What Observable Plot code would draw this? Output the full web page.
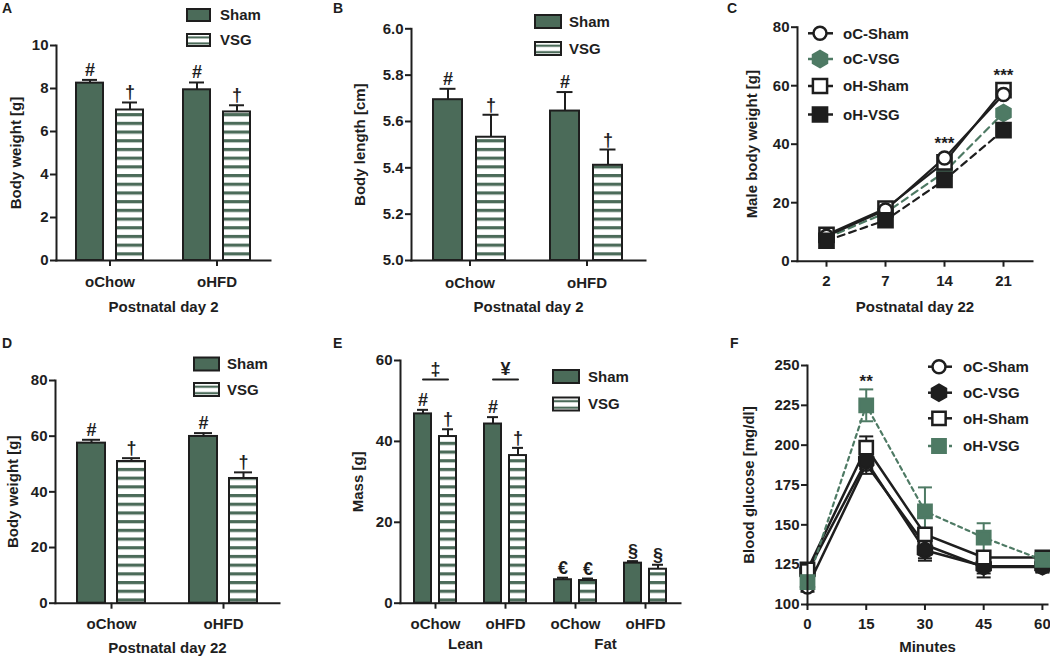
<!DOCTYPE html>
<html>
<head>
<meta charset="utf-8">
<script src="https://cdn.jsdelivr.net/npm/d3@7"></script>
<script src="https://cdn.jsdelivr.net/npm/@observablehq/plot@0.6"></script>
<style>
  body { margin: 0; background: #fff; }
  #fig { position: relative; width: 1050px; height: 658px; overflow: hidden; background: #fff; }
  .panel { position: absolute; }
  .panel svg { overflow: visible; }
</style>
</head>
<body>
<svg width="0" height="0" style="position:absolute">
  <defs>
    <pattern id="stripes" patternUnits="userSpaceOnUse" width="10" height="8.7">
      <rect width="10" height="8.7" fill="#ffffff"></rect>
      <rect y="0" width="10" height="3.2" fill="#4b6b59"></rect>
    </pattern>
    <pattern id="stripesLegend" patternUnits="objectBoundingBox" width="1" height="0.5" patternContentUnits="objectBoundingBox">
      <rect width="1" height="0.5" fill="#ffffff"></rect>
      <rect y="0.2" width="1" height="0.17" fill="#4b6b59"></rect>
    </pattern>
  </defs>
</svg>
<div id="fig"></div>
<script>
// ---------------- DATA ----------------
const treatments = ["Sham", "VSG"];
const groups = ["oChow", "oHFD"];

// Panel A: body weight [g], postnatal day 2 (order: oChow Sham, oChow VSG, oHFD Sham, oHFD VSG)
const aMean = [8.25, 7.0, 7.94, 6.91];
const aSem  = [0.15, 0.35, 0.34, 0.31];
const aSig  = ["#", "†", "#", "†"];
const aTicks = [0, 2, 4, 6, 8, 10];

// Panel B: body length [cm], postnatal day 2
const bMean = [5.694, 5.532, 5.645, 5.411];
const bSem  = [0.047, 0.097, 0.082, 0.068];
const bSig  = ["#", "†", "#", "†"];
const bTicks = [5.0, 5.2, 5.4, 5.6, 5.8, 6.0];

// Panel D: body weight [g], postnatal day 22
const dMean = [57.5, 50.9, 59.9, 44.8];
const dSem  = [1.2, 1.2, 1.2, 2.2];
const dSig  = ["#", "†", "#", "†"];
const dTicks = [0, 20, 40, 60, 80];

// Panel E: mass [g] (lean / fat)
const eGroups = ["Lean oChow", "Lean oHFD", "Fat oChow", "Fat oHFD"];
const eMean = [46.8, 41.2, 44.3, 36.5, 5.8, 5.6, 9.9, 8.4];
const eSem  = [1.0, 1.8, 1.7, 1.9, 0.5, 0.5, 0.5, 1.1];
const eSig  = ["#", "†", "#", "†", "€", "€", "§", "§"];
const eTicks = [0, 20, 40, 60];
const eBrackets = [
  {group: "Lean oChow", sig: "‡", y: 55.3},
  {group: "Lean oHFD", sig: "¥", y: 55.3}
];
const eTissues = [
  {group: "Lean oHFD", label: "Lean"},
  {group: "Fat oHFD", label: "Fat"}
];

// Panel C: male body weight [g] by postnatal day
const cDays = [2, 7, 14, 21];
const cOCSham = [8.5, 17.5, 35.3, 57.0];
const cOCVSG  = [8.0, 16.5, 30.5, 50.7];
const cOHSham = [9.0, 18.0, 33.8, 58.5];
const cOHVSG  = [7.0, 14.0, 27.8, 44.8];
const cStarDays = [14, 21];
const cTicks = [0, 20, 40, 60, 80];

// Panel F: blood glucose [mg/dl] by minutes
const fMinutes = [0, 15, 30, 45, 60];
const fOCSham = [111, 188, 137.5, 123.5, 123.5];
const fOCShamSem = [3, 6, 10, 4, 3];
const fOCVSG  = [120.5, 190, 134, 124, 124];
const fOCVSGSem = [3, 5, 5, 7, 4];
const fOHSham = [122, 198.5, 144, 129.5, 129.5];
const fOHShamSem = [3, 7, 4, 4, 3];
const fOHVSG  = [114, 225, 158.5, 142, 128];
const fOHVSGSem = [3, 10, 15, 9, 3];
const fStarMinutes = [15];
const fTicks = [100, 125, 150, 175, 200, 225, 250];

// ---------------- STYLE ----------------
const FONT = '"Liberation Sans", Arial, Helvetica, sans-serif';
const INK = "#1e1e1e";
const GREEN = "#4b6b59";
const LGREEN = "#4e7a64";

const sqrt4_3 = 2 / Math.sqrt(3);
const hexagon = {draw(ctx, size) {
  const rx = Math.sqrt(size / Math.PI), ry = rx * sqrt4_3, hy = ry / 2;
  ctx.moveTo(0, ry); ctx.lineTo(rx, hy); ctx.lineTo(rx, -hy);
  ctx.lineTo(0, -ry); ctx.lineTo(-rx, -hy); ctx.lineTo(-rx, hy); ctx.closePath();
}};
const capSymbol = {draw(ctx, size) {
  const w = Math.sqrt(size / Math.PI);
  ctx.moveTo(-w, 0); ctx.lineTo(w, 0);
}};

const fig = document.getElementById("fig");
function place(node, left, top, w, h) {
  const div = document.createElement("div");
  div.className = "panel";
  Object.assign(div.style, {left: left + "px", top: top + "px", width: w + "px", height: h + "px"});
  div.appendChild(node);
  fig.appendChild(div);
}
const baseStyle = {fontFamily: FONT, fontSize: "15px", fontWeight: "bold", color: INK, background: "transparent", overflow: "visible"};

// ---------------- BAR PANELS ----------------
function barPanel(o) {
  const rows = o.mean.map((m, i) => ({
    group: o.groups[Math.floor(i / 2)], treatment: treatments[i % 2],
    mean: m, sem: o.sem[i], sig: o.sig[i]
  }));
  const top = d => d.mean + d.sem;
  const y0 = o.yDomain[0];
  const marks = [
    Plot.barY(rows, {fx: "group", x: "treatment", y1: y0, y2: "mean", fill: "treatment", stroke: INK, strokeWidth: 2}),
    Plot.ruleX(rows, {fx: "group", x: "treatment", y1: "mean", y2: top, stroke: INK, strokeWidth: 2}),
    Plot.tickY(rows, {fx: "group", x: "treatment", y: top, stroke: INK, strokeWidth: 2, insetLeft: o.capInset, insetRight: o.capInset}),
    Plot.text(rows, {fx: "group", x: "treatment", y: top, text: "sig", lineAnchor: "bottom", dy: -4, fontSize: 18}),
    Plot.frame({anchor: "left", facet: "super", stroke: INK, strokeWidth: 2}),
    Plot.frame({anchor: "bottom", facet: "super", stroke: INK, strokeWidth: 2}),
    Plot.axisY({ticks: o.yTicks, tickFormat: o.yFormat, tickSize: 6, tickPadding: 2, strokeWidth: 2,
      label: o.yLabel, labelAnchor: "center", labelOffset: o.yLabelOffset, labelArrow: "none"}),
    Plot.axisFx({anchor: "bottom", tickSize: 6, tickPadding: o.xPad, strokeWidth: 2, tickFormat: o.fxFormat,
      label: o.xLabel, labelAnchor: "center", labelOffset: o.xLabelOffset, labelArrow: "none"})
  ];
  if (o.extra) marks.push(...o.extra);
  return Plot.plot({
    width: o.width, height: o.height,
    marginTop: o.m[0], marginRight: o.m[1], marginBottom: o.m[2], marginLeft: o.m[3],
    style: baseStyle,
    fx: {domain: o.groups, padding: 0, axis: null},
    x: {domain: treatments, paddingInner: o.pi, paddingOuter: o.po, axis: null},
    y: {domain: o.yDomain, axis: null},
    color: {domain: treatments, range: [GREEN, "url(#stripes)"]},
    marks
  });
}

place(barPanel({groups, mean: aMean, sem: aSem, sig: aSig, yDomain: [0, 10], yTicks: aTicks,
  yLabel: "Body weight [g]", xLabel: "Postnatal day 2", width: 350, height: 320, m: [45, 80, 60, 55],
  pi: 0.33, po: 0.494, capInset: 6, xPad: 10, xLabelOffset: 51, yLabelOffset: 46}), 0, 0, 350, 320);

place(barPanel({groups, mean: bMean, sem: bSem, sig: bSig, yDomain: [5, 6], yTicks: bTicks, yFormat: d3.format(".1f"),
  yLabel: "Body length [cm]", xLabel: "Postnatal day 2", width: 350, height: 320, m: [28.3, 55, 60, 60],
  pi: 0.318, po: 0.494, capInset: 6.5, xPad: 11, xLabelOffset: 51, yLabelOffset: 57}), 350, 0, 350, 320);

place(barPanel({groups, mean: dMean, sem: dSem, sig: dSig, yDomain: [0, 80], yTicks: dTicks,
  yLabel: "Body weight [g]", xLabel: "Postnatal day 22", width: 350, height: 338, m: [60, 71, 55.3, 55],
  pi: 0.296, po: 0.53, capInset: 5, xPad: 9, xLabelOffset: 49.3, yLabelOffset: 48}), 0, 320, 350, 338);

const eBracketRows = eBrackets.flatMap(b => treatments.map(t => ({...b, treatment: t})));
place(barPanel({groups: eGroups, mean: eMean, sem: eSem, sig: eSig, yDomain: [0, 60], yTicks: eTicks,
  fxFormat: d => d.split(" ")[1],
  yLabel: "Mass [g]", xLabel: null, width: 350, height: 338, m: [40, 19, 55.3, 49],
  pi: 0.308, po: 0.51, capInset: 3, xPad: 9, xLabelOffset: 49, yLabelOffset: 48,
  extra: [
    Plot.line(eBracketRows, {fx: "group", x: "treatment", y: "y", z: "group", stroke: INK, strokeWidth: 2}),
    Plot.text(eBrackets, {fx: "group", y: "y", text: "sig", lineAnchor: "bottom", dy: -5, fontSize: 18}),
    Plot.text(eTissues, {fx: "group", text: "label", frameAnchor: "bottom-left", textAnchor: "middle", lineAnchor: "top", dx: -5, dy: 35, fontSize: 15})
  ]}), 350, 320, 350, 338);

// ---------------- LINE PANELS ----------------
function linePanel(o) {
  const series = o.series.map(s => ({...s, rows: o.xs.map((x, i) => ({x, y: s.values[i], e: s.sem ? s.sem[i] : 0}))}));
  const byName = n => series.find(s => s.name === n);
  const lineOrder = o.lineOrder.map(byName);
  const dotOrder = o.dotOrder.map(byName);
  const marks = [];
  for (const s of lineOrder) marks.push(Plot.line(s.rows, {x: "x", y: "y", stroke: s.line, strokeWidth: s.lw, strokeDasharray: s.dash}));
  if (o.errors) for (const s of dotOrder) {
    marks.push(Plot.ruleX(s.rows, {x: "x", y1: d => d.y - d.e, y2: d => d.y + d.e, stroke: s.line, strokeWidth: 2}));
    marks.push(Plot.dot(s.rows, {x: "x", y: d => d.y + d.e, symbol: capSymbol, r: 7, stroke: s.line, strokeWidth: 2, fill: "none"}));
    marks.push(Plot.dot(s.rows, {x: "x", y: d => d.y - d.e, symbol: capSymbol, r: 7, stroke: s.line, strokeWidth: 2, fill: "none"}));
  }
  for (const s of dotOrder) marks.push(Plot.dot(s.rows, {x: "x", y: "y", symbol: s.symbol, r: s.r, fill: s.fill, stroke: s.stroke, strokeWidth: 2.5}));
  const stars = o.starXs.map(x => ({x, text: o.starText,
    y: d3.max(series, s => { const r = s.rows.find(r => r.x === x); return r.y + r.e; })}));
  marks.push(Plot.text(stars, {x: "x", y: "y", text: "text", lineAnchor: "bottom", dy: o.starDy, fontSize: o.starSize}));
  marks.push(Plot.frame({anchor: "left", stroke: INK, strokeWidth: 2}));
  marks.push(Plot.frame({anchor: "bottom", stroke: INK, strokeWidth: 2}));
  marks.push(Plot.axisY({ticks: o.yTicks, tickSize: 6, tickPadding: 2, strokeWidth: 2,
    label: o.yLabel, labelAnchor: "center", labelOffset: o.yLabelOffset, labelArrow: "none"}));
  marks.push(Plot.axisX({ticks: o.xTicks, tickSize: 6, tickPadding: o.xPad, strokeWidth: 2,
    label: o.xLabel, labelAnchor: "center", labelOffset: o.xLabelOffset, labelArrow: "none"}));
  return Plot.plot({
    width: o.width, height: o.height,
    marginTop: o.m[0], marginRight: o.m[1], marginBottom: o.m[2], marginLeft: o.m[3],
    style: baseStyle,
    x: {...o.x, axis: null},
    y: {domain: o.yDomain, axis: null},
    marks
  });
}

const cSeries = [
  {name: "oC-Sham", values: cOCSham, line: INK, lw: 2.2, dash: null, symbol: "circle", r: 6.5, fill: "#fff", stroke: INK},
  {name: "oC-VSG", values: cOCVSG, line: LGREEN, lw: 2.2, dash: "7,5", symbol: hexagon, r: 7, fill: LGREEN, stroke: LGREEN},
  {name: "oH-Sham", values: cOHSham, line: INK, lw: 2.2, dash: null, symbol: "square", r: 8, fill: "#fff", stroke: INK},
  {name: "oH-VSG", values: cOHVSG, line: INK, lw: 2.2, dash: "7,5", symbol: "square", r: 8, fill: INK, stroke: INK}
];
place(linePanel({xs: cDays, series: cSeries,
  lineOrder: ["oH-VSG", "oC-VSG", "oH-Sham", "oC-Sham"], dotOrder: ["oC-VSG", "oH-Sham", "oC-Sham", "oH-VSG"],
  errors: false, starXs: cStarDays, starText: "***", starDy: -9, starSize: 17,
  x: {type: "point", domain: cDays, padding: 0.48}, xTicks: cDays, yDomain: [0, 80], yTicks: cTicks,
  yLabel: "Male body weight [g]", xLabel: "Postnatal day 22",
  width: 350, height: 320, m: [26.7, 18, 59.3, 97], xPad: 8, xLabelOffset: 50.3, yLabelOffset: 51}), 700, 0, 350, 320);

const fSeries = [
  {name: "oC-Sham", values: fOCSham, sem: fOCShamSem, line: INK, lw: 2.5, dash: null, symbol: "circle", r: 6.5, fill: "#fff", stroke: INK},
  {name: "oC-VSG", values: fOCVSG, sem: fOCVSGSem, line: INK, lw: 2.5, dash: null, symbol: hexagon, r: 7, fill: INK, stroke: INK},
  {name: "oH-Sham", values: fOHSham, sem: fOHShamSem, line: INK, lw: 2.5, dash: null, symbol: "square", r: 7.5, fill: "#fff", stroke: INK},
  {name: "oH-VSG", values: fOHVSG, sem: fOHVSGSem, line: LGREEN, lw: 2.2, dash: "4,4", symbol: "square", r: 7.5, fill: LGREEN, stroke: LGREEN}
];
place(linePanel({xs: fMinutes, series: fSeries,
  lineOrder: ["oC-Sham", "oC-VSG", "oH-Sham", "oH-VSG"], dotOrder: ["oC-Sham", "oC-VSG", "oH-Sham", "oH-VSG"],
  errors: true, starXs: fStarMinutes, starText: "**", starDy: -2, starSize: 17,
  x: {domain: [0, 61.3]}, xTicks: fMinutes, yDomain: [100, 250], yTicks: fTicks,
  yLabel: "Blood glucose [mg/dl]", xLabel: "Minutes",
  width: 350, height: 338, m: [45, 3, 54, 107], xPad: 8, xLabelOffset: 47.3, yLabelOffset: 64}), 700, 320, 350, 338);

// ---------------- LEGENDS & PANEL LETTERS ----------------
const overlay = d3.select(fig).append("svg")
  .attr("width", 1050).attr("height", 658)
  .style("position", "absolute").style("left", "0px").style("top", "0px")
  .style("pointer-events", "none")
  .attr("font-family", FONT).attr("font-weight", "bold").attr("fill", INK);

function barLegend(x, w, h, ys, textX) {
  treatments.forEach((t, i) => {
    overlay.append("rect").attr("x", x).attr("y", ys[i] - h / 2).attr("width", w).attr("height", h)
      .attr("fill", t === "Sham" ? GREEN : "url(#stripesLegend)").attr("stroke", INK).attr("stroke-width", 2);
    overlay.append("text").attr("x", textX).attr("y", ys[i]).attr("dy", "0.36em").attr("font-size", 15).text(t);
  });
}
barLegend(187, 23, 12, [15, 40], 220);
barLegend(535, 26, 13, [21.5, 48.5], 569);
barLegend(194, 25, 13, [364, 389.5], 227);
barLegend(553, 26, 13, [376.5, 404], 588);

const symbolType = s => s === "circle" ? d3.symbolCircle : s === "square" ? d3.symbolSquare : s;
function lineLegend(series, x1, x2, mx, ys, textX, dashes) {
  series.forEach((s, i) => {
    overlay.append("line").attr("x1", x1).attr("x2", x2).attr("y1", ys[i]).attr("y2", ys[i])
      .attr("stroke", s.line).attr("stroke-width", 2.5).attr("stroke-dasharray", dashes[i]);
    overlay.append("path").attr("transform", `translate(${mx},${ys[i]})`)
      .attr("d", d3.symbol(symbolType(s.symbol), Math.PI * s.r * s.r)())
      .attr("fill", s.fill).attr("stroke", s.stroke).attr("stroke-width", 2.5);
    overlay.append("text").attr("x", textX).attr("y", ys[i]).attr("dy", "0.36em").attr("font-size", 15).text(s.name);
  });
}
lineLegend(cSeries, 808, 833, 820, [33.3, 59, 86, 114.5], 843, [null, null, null, null]);
lineLegend(fSeries, 928, 952, 939, [366.7, 392.7, 418.3, 446], 963, [null, null, null, "4,3"]);

const letters = [["A", 2, 13], ["B", 333, 13], ["C", 727, 13], ["D", 2, 348], ["E", 333, 348], ["F", 730, 348]];
letters.forEach(([t, x, y]) => overlay.append("text").attr("x", x).attr("y", y).attr("font-size", 14).text(t));
</script>
</body>
</html>
